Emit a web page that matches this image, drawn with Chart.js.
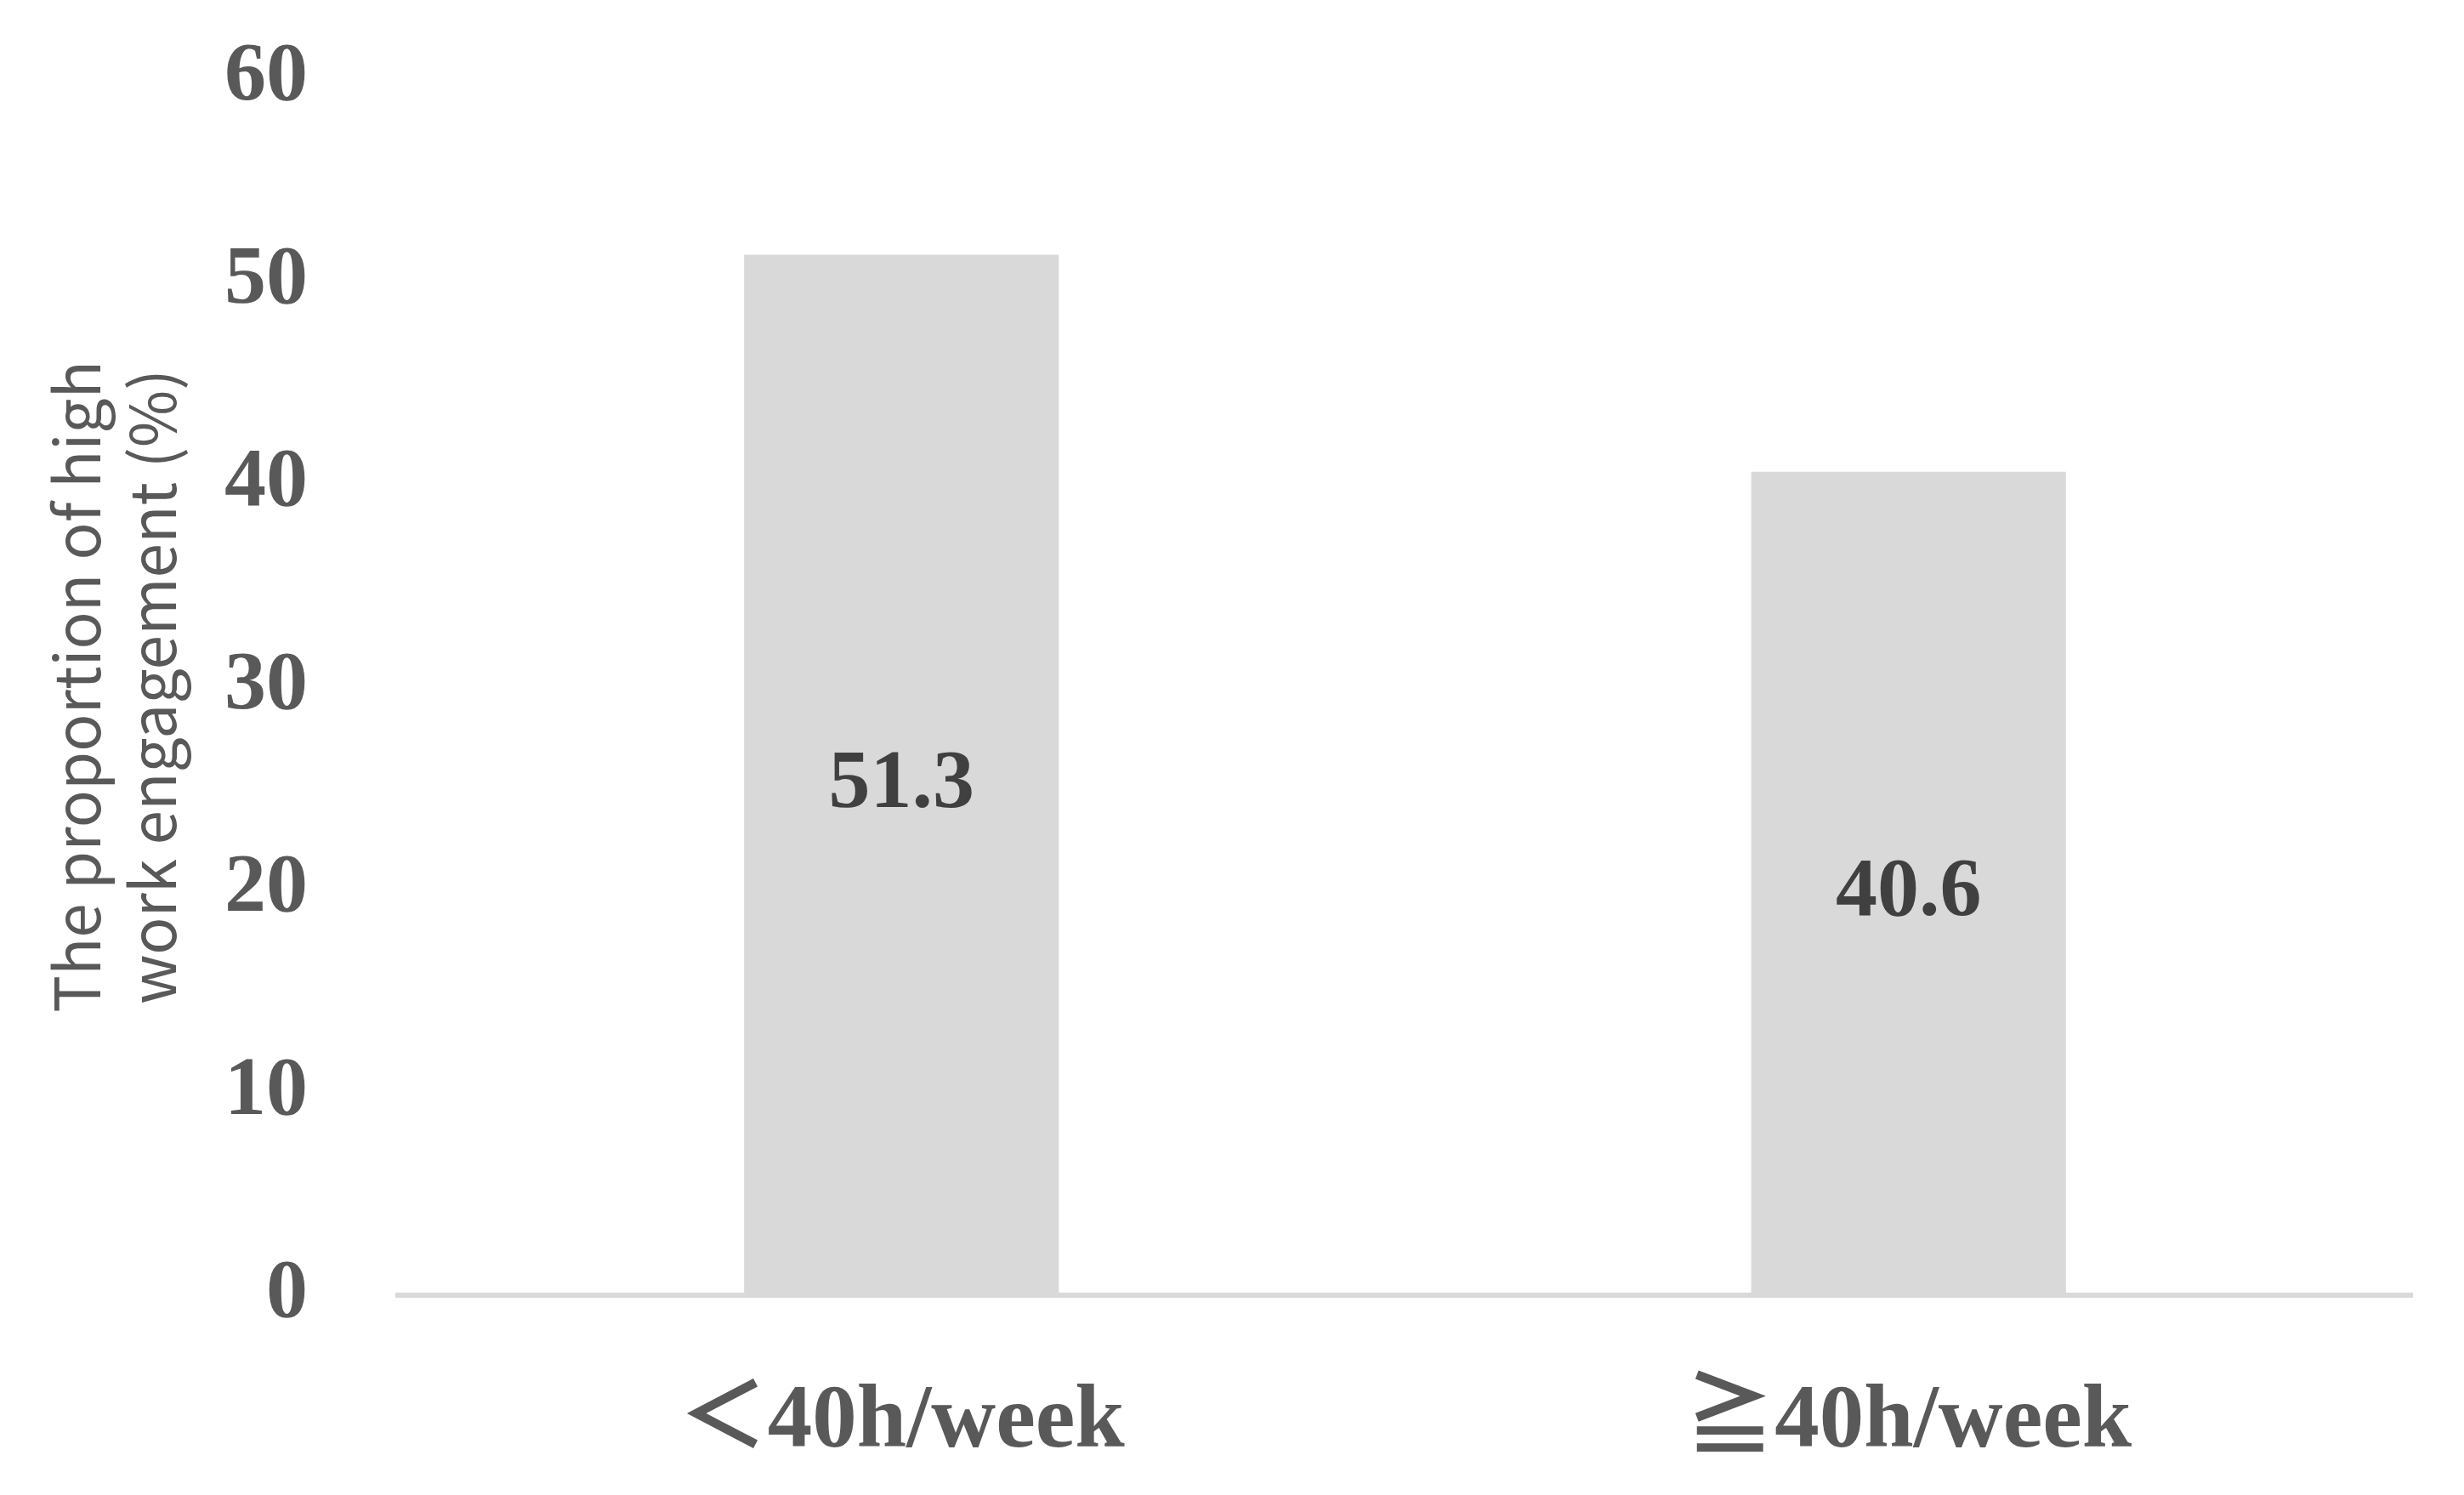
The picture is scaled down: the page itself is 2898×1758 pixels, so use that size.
<!DOCTYPE html>
<html>
<head>
<meta charset="utf-8">
<script src="https://cdn.jsdelivr.net/npm/chart.js@4/dist/chart.umd.min.js"></script>
<style>
  html, body { margin: 0; padding: 0; background: #fff; }
  #wrap { width: 2898px; height: 1758px; }
</style>
</head>
<body>
<div id="wrap"><canvas id="grafica"></canvas></div>
<script>
const categorias = ["＜40h/week", "≧40h/week"];
const valores = [51.3, 40.6];
const tituloY = ["The proportion of high", "work engagement (%)"];
const ticksY = [0, 10, 20, 30, 40, 50, 60];

// etiquetas de valor en el centro de cada barra
const etiquetasBarras = {
  id: "etiquetasBarras",
  afterDatasetsDraw(chart) {
    const ctx = chart.ctx;
    const meta = chart.getDatasetMeta(0);
    ctx.save();
    ctx.font = "bold 98px 'Liberation Serif', serif";
    ctx.fillStyle = "#404040";
    ctx.textAlign = "center";
    ctx.textBaseline = "middle";
    meta.data.forEach((bar, i) => {
      const y = (bar.y + bar.base) / 2 + 12;
      ctx.fillText(valores[i].toFixed(1), bar.x, y);
    });
    ctx.restore();
  }
};

new Chart(document.getElementById("grafica").getContext("2d"), {
  type: "bar",
  data: {
    labels: categorias,
    datasets: [{
      data: valores,
      backgroundColor: "#d9d9d9",
      categoryPercentage: 1,
      barPercentage: 0.3125
    }]
  },
  options: {
    responsive: true,
    maintainAspectRatio: false,
    animation: false,
    layout: { padding: { top: 92, right: 61, bottom: 0, left: 0 } },
    plugins: {
      legend: { display: false },
      tooltip: { enabled: false }
    },
    scales: {
      x: {
        grid: { display: false, drawTicks: false },
        border: { display: true, color: "#d9d9d9", width: 6 },
        ticks: {
          color: "#595959",
          font: { family: "'Liberation Serif', 'Noto Sans CJK JP', serif", weight: "bold", size: 105 },
          padding: 88
        },
        afterFit: s => { s.height = 235; }
      },
      y: {
        min: 0,
        max: 60,
        afterBuildTicks: s => { s.ticks = ticksY.map(v => ({ value: v })); },
        grid: { display: false, drawTicks: false },
        border: { display: false },
        ticks: {
          color: "#595959",
          font: { family: "'Liberation Serif', serif", weight: "bold", size: 98 },
          padding: 106
        },
        title: {
          display: true,
          text: tituloY,
          color: "#595959",
          font: { family: "'Noto Sans CJK JP', 'Noto Sans', sans-serif", size: 73, lineHeight: 1.22 },
          padding: { top: 46, bottom: 0 }
        },
        afterFit: s => {
          s.width = 468;
          s.paddingTop = 60;
          s.paddingBottom = 60;
        }
      }
    }
  },
  plugins: [etiquetasBarras]
});
</script>
</body>
</html>
